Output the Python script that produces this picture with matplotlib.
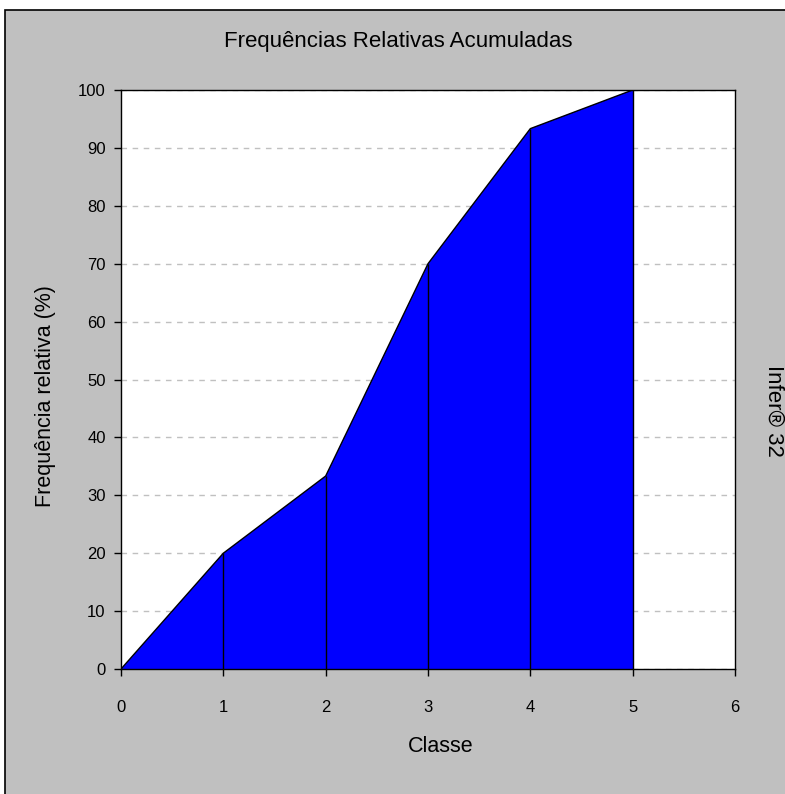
import matplotlib.pyplot as plt
from matplotlib.patches import Rectangle

plt.rcParams['font.family'] = ['Liberation Sans', 'DejaVu Sans']

# cumulative relative frequencies (%)
classes = [0, 1, 2, 3, 4, 5]
freq_acum = [0, 20, 33.33, 70, 93.33, 100]

W, H = 785, 794
fig = plt.figure(figsize=(W / 100, H / 100), dpi=100)
fig.patch.set_facecolor('white')

# grey panel with black frame
fig.patches.append(Rectangle((5 / W, -0.01), 1.0, 1 - 10 / H + 0.01,
                             transform=fig.transFigure, facecolor='#c0c0c0',
                             edgecolor='black', linewidth=1.2, zorder=-10))

ax = fig.add_axes([121 / W, 1 - 669 / H, 614 / W, 579 / H])
ax.set_facecolor('white')

ax.fill_between(classes, freq_acum, 0, color='#0000ff', zorder=2)
ax.plot(classes, freq_acum, color='black', linewidth=1, zorder=3)
ax.vlines(classes[1:], 0, freq_acum[1:], color='black', linewidth=1, zorder=3)

ax.set_xlim(0, 6)
ax.set_ylim(0, 100)
ax.set_xticks(range(0, 7))
ax.set_yticks(range(0, 101, 10))
ax.yaxis.grid(True, linestyle=(0, (4, 4)), color='#c0c0c0', linewidth=1, zorder=1)
ax.set_axisbelow(True)
ax.tick_params(direction='out', length=5, width=1, labelsize=12, colors='black')
ax.tick_params(axis='x', pad=17)
ax.tick_params(axis='y', pad=6)
for s in ax.spines.values():
    s.set_linewidth(1)

fig.text(441 / W, 1 - 746 / H, 'Classe', fontsize=15.5, ha='center', va='center')
fig.text(46 / W, 1 - 396 / H, 'Frequência relativa (%)', fontsize=15.5,
         rotation=90, ha='center', va='center')
fig.text(398 / W, 1 - 42 / H, 'Frequências Relativas Acumuladas', fontsize=16,
         ha='center', va='center')
fig.text(774 / W, 1 - 411 / H, 'Infer® 32', fontsize=16, rotation=-90,
         ha='center', va='center')

fig.savefig('out.png', dpi=100)
